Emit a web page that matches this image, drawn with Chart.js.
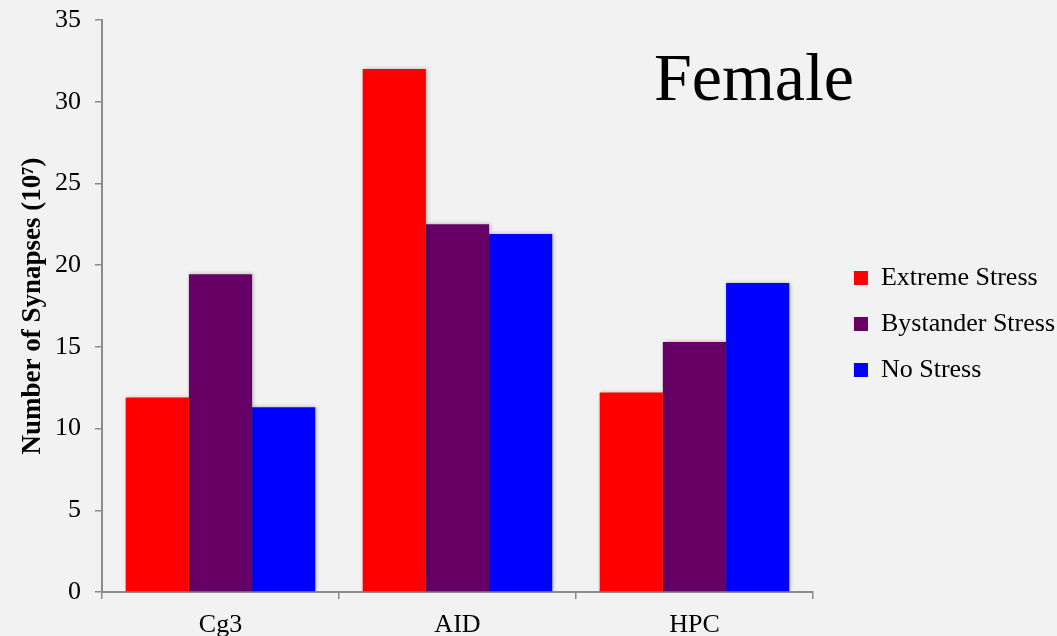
<!DOCTYPE html>
<html>
<head>
<meta charset="utf-8">
<script src="https://cdn.jsdelivr.net/npm/chart.js@4/dist/chart.umd.min.js"></script>
<style>
  html, body { margin: 0; padding: 0; background: #f2f2f2; }
  #wrap { width: 1057px; height: 636px; position: relative; }
</style>
</head>
<body>
<div id="wrap"><canvas id="c" width="1057" height="636"></canvas></div>
<script>
const categories = ['Cg3', 'AID', 'HPC'];
const extremeStress = [11.9, 32.0, 12.2];
const bystanderStress = [19.45, 22.5, 15.3];
const noStress = [11.3, 21.9, 18.9];
const seriesNames = ['Extreme Stress', 'Bystander Stress', 'No Stress'];
const seriesColors = ['#ff0000', '#660066', '#0000ff'];
const yAxisTitle = 'Number of Synapses (10\u2077)';
const panelTitle = 'Female';

const SERIF = "'Liberation Serif', 'Times New Roman', serif";
const AXIS_GRAY = '#8c8c8c';
const LEGEND_EXTRA = 13;   // extra room between plot and legend
const LEGEND_SHIFT = 21;   // move legend items right inside that room
const LEGEND_LIFT = 4;

const shadowPlugin = {
  id: 'barShadow',
  beforeDatasetsDraw(chart) {
    const ctx = chart.ctx;
    ctx.save();
    ctx.shadowColor = 'rgba(0,0,0,0.28)';
    ctx.shadowBlur = 4;
    ctx.shadowOffsetX = 1;
    ctx.shadowOffsetY = 0;
  },
  afterDatasetsDraw(chart) {
    chart.ctx.restore();
  }
};

const legendGapPlugin = {
  id: 'legendGap',
  beforeLayout(chart) {
    const lg = chart.legend;
    if (lg && !lg._gapWrapped) {
      const origFit = lg.fit;
      lg.fit = function () {
        origFit.call(this);
        this.width += LEGEND_EXTRA;
      };
      lg._gapWrapped = true;
    }
  },
  afterLayout(chart) {
    const lg = chart.legend;
    if (lg) {
      lg.left += LEGEND_SHIFT;
      lg.right += LEGEND_SHIFT;
      lg.top -= LEGEND_LIFT;
      lg.bottom -= LEGEND_LIFT;
    }
  }
};

const panelTitlePlugin = {
  id: 'panelTitle',
  afterDraw(chart) {
    const ctx = chart.ctx;
    const a = chart.chartArea;
    ctx.save();
    ctx.fillStyle = '#000';
    ctx.font = "68px " + SERIF;
    ctx.textAlign = 'center';
    ctx.textBaseline = 'alphabetic';
    ctx.fillText(panelTitle, a.right - 59, a.top + 80);
    ctx.restore();
  }
};

new Chart(document.getElementById('c'), {
  type: 'bar',
  data: {
    labels: categories,
    datasets: [
      { label: seriesNames[0], data: extremeStress, backgroundColor: seriesColors[0] },
      { label: seriesNames[1], data: bystanderStress, backgroundColor: seriesColors[1] },
      { label: seriesNames[2], data: noStress, backgroundColor: seriesColors[2] }
    ]
  },
  options: {
    responsive: false,
    animation: false,
    devicePixelRatio: 1,
    layout: { padding: { top: 20, left: 0, right: 0, bottom: 0 } },
    datasets: { bar: { categoryPercentage: 0.8, barPercentage: 1.0, borderWidth: 0 } },
    plugins: {
      title: { display: false },
      tooltip: { enabled: false },
      legend: {
        position: 'right',
        align: 'center',
        labels: {
          boxWidth: 14,
          boxHeight: 14,
          padding: 20,
          color: '#000',
          font: { family: SERIF, size: 26 }
        }
      }
    },
    scales: {
      x: {
        type: 'category',
        grid: { display: true, drawOnChartArea: false, drawTicks: true, tickLength: 7, color: AXIS_GRAY, lineWidth: 1.5, offset: true },
        border: { display: true, color: AXIS_GRAY, width: 2 },
        ticks: { color: '#000', font: { family: SERIF, size: 26 }, padding: 11, maxRotation: 0 },
        afterFit(s) { s.height = 44; }
      },
      y: {
        min: 0,
        max: 35,
        ticks: { stepSize: 5, color: '#000', font: { family: SERIF, size: 26 }, padding: 14 },
        grid: { display: true, drawOnChartArea: false, drawTicks: true, tickLength: 7, color: AXIS_GRAY, lineWidth: 1.5 },
        border: { display: true, color: AXIS_GRAY, width: 2 },
        title: {
          display: true,
          text: yAxisTitle,
          color: '#000',
          font: { family: SERIF, size: 27, weight: 'bold' },
          padding: { top: 17, bottom: 0 }
        },
        afterFit(s) {
          s.width = 102;
          s.paddingTop = 0;
          s.paddingBottom = 0;
        }
      }
    }
  },
  plugins: [shadowPlugin, legendGapPlugin, panelTitlePlugin]
});
</script>
</body>
</html>
